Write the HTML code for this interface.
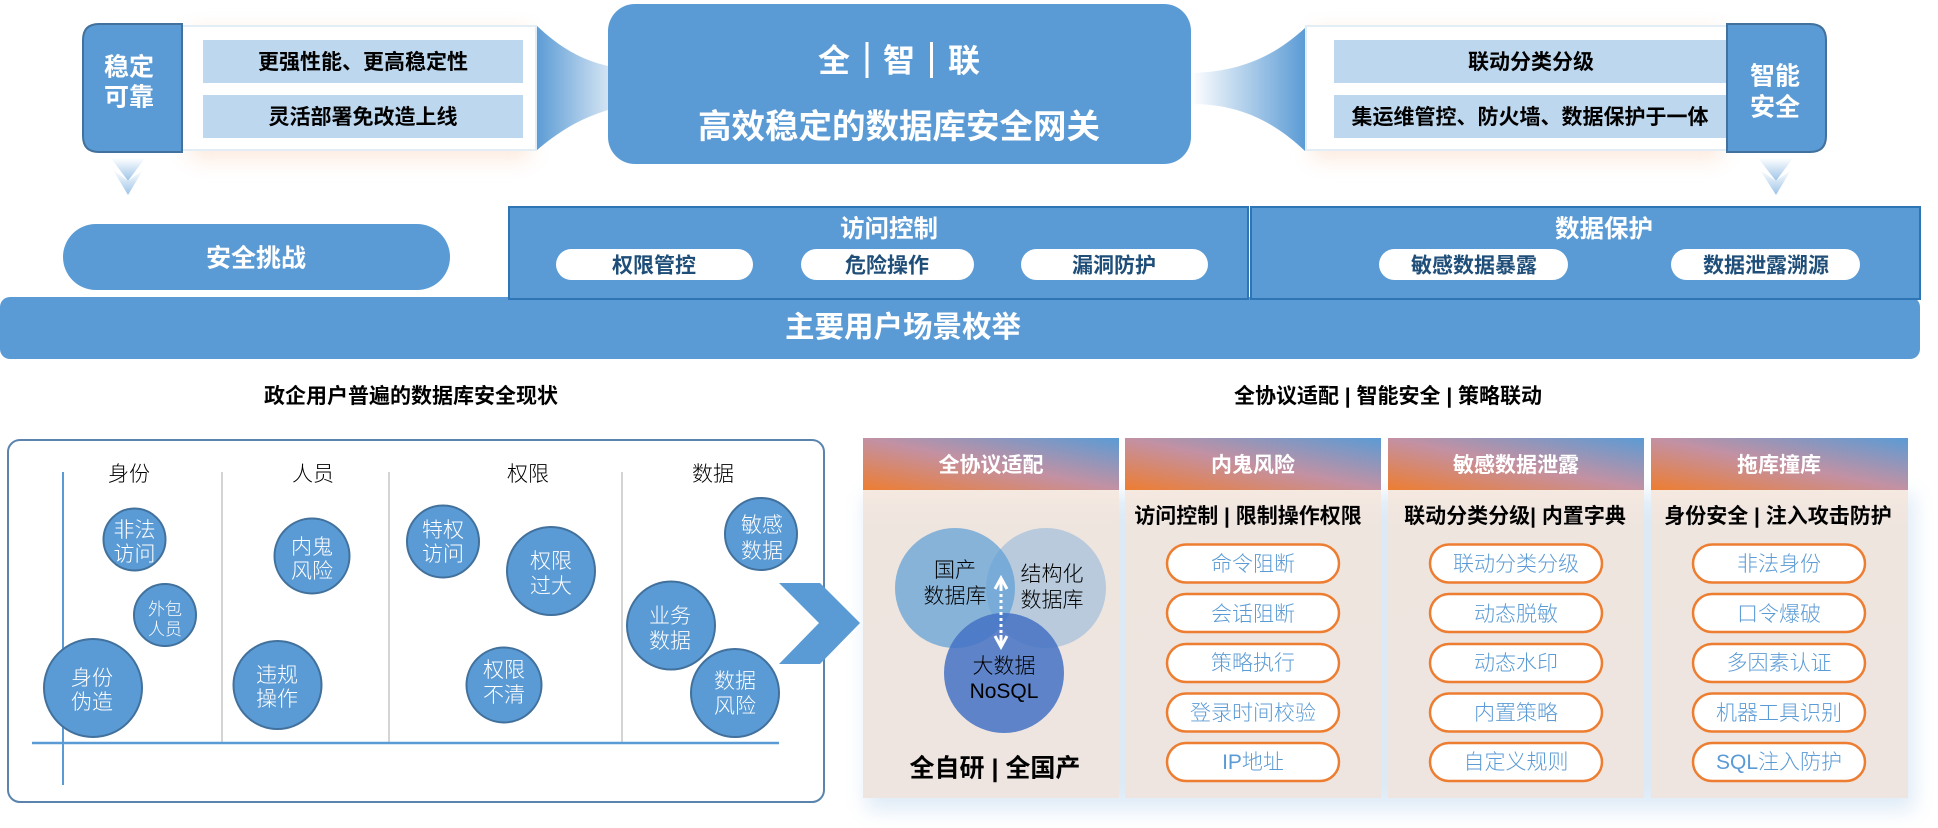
<!DOCTYPE html>
<html lang="zh">
<head>
<meta charset="utf-8">
<title>全智联</title>
<style>
html,body{margin:0;padding:0;background:#fff;width:1938px;height:828px;overflow:hidden}
svg{display:block}
text{font-family:"Liberation Sans","Noto Sans CJK SC",sans-serif;text-anchor:middle;dominant-baseline:central;transform:translateY(1.3px);font-weight:300}
.b{font-weight:700}
.w{fill:#fff}
.k{fill:#000}
.d{fill:#1f4e79;font-weight:700;font-size:21px}
.c{fill:#fff;font-size:21px}
.l{fill:#000;font-size:21px}
.t{fill:#5b9bd5;font-size:21px}
.bub{fill:#5b9bd5;stroke:#41719c;stroke-width:2}
.pill{fill:#fff}
.btn{fill:#fff;stroke:#ed7d31;stroke-width:2.500}
</style>
</head>
<body>
<svg width="1938" height="828" viewBox="0 0 1938 828" xmlns="http://www.w3.org/2000/svg">
<defs>
<filter id="blur8" x="-20%" y="-40%" width="140%" height="180%"><feGaussianBlur stdDeviation="10"/></filter>
<filter id="blur10" x="-10%" y="-20%" width="120%" height="140%"><feGaussianBlur stdDeviation="10"/></filter>
<linearGradient id="fl" x1="0" x2="1" y1="0" y2="0"><stop offset="0" stop-color="#5b9bd5"/><stop offset="1" stop-color="#d3e3f3"/></linearGradient>
<linearGradient id="fr" x1="0" x2="1" y1="0" y2="0"><stop offset="0" stop-color="#ffffff"/><stop offset="1" stop-color="#5b9bd5"/></linearGradient>
<linearGradient id="dn" x1="0" x2="0" y1="0" y2="1"><stop offset="0" stop-color="#ffffff"/><stop offset="1" stop-color="#9cc3e8"/></linearGradient>
<linearGradient id="hd" x1="0" x2="1" y1="1" y2="0"><stop offset="0" stop-color="#ed7d31"/><stop offset=".5" stop-color="#c391a3"/><stop offset="1" stop-color="#5b9bd5"/></linearGradient>
<linearGradient id="bd" x1="0" x2="0" y1="0" y2="1"><stop offset="0" stop-color="#f5e9e0"/><stop offset=".12" stop-color="#eee5df"/><stop offset="1" stop-color="#eee5e0"/></linearGradient>
</defs>

<!-- top glow -->
<rect x="190" y="30" width="340" height="130" fill="#f8c9a8" opacity=".38" filter="url(#blur8)"/>
<rect x="1312" y="30" width="410" height="130" fill="#f8c9a8" opacity=".38" filter="url(#blur8)"/>

<!-- funnels -->
<path d="M536 25 C560 48 582 60 608 66 L608 110 C582 118 560 130 536 151 Z" fill="url(#fl)"/>
<path d="M1191 73 C1235 72 1270 60 1305 28 L1305 151 C1270 118 1235 104 1191 104 Z" fill="url(#fr)"/>

<!-- left panel -->
<rect x="182" y="26" width="354" height="124" fill="#fff" stroke="#e3edf6" stroke-width="2"/>
<rect x="203" y="40" width="320" height="43" fill="#bdd7ee"/>
<rect x="203" y="95" width="320" height="43" fill="#bdd7ee"/>
<text x="363" y="61" class="b k" font-size="21">更强性能、更高稳定性</text>
<text x="363" y="116" class="b k" font-size="21">灵活部署免改造上线</text>
<path d="M182 24 H99 Q83 24 83 40 V136 Q83 152 99 152 H182 Z" fill="#5b9bd5" stroke="#41719c" stroke-width="2"/>
<text x="129" y="66" class="b w" font-size="25">稳定</text>
<text x="129" y="96" class="b w" font-size="25">可靠</text>

<!-- right panel -->
<rect x="1306" y="26" width="421" height="124" fill="#fff" stroke="#e3edf6" stroke-width="2"/>
<rect x="1334" y="40" width="393" height="43" fill="#bdd7ee"/>
<rect x="1334" y="95" width="393" height="43" fill="#bdd7ee"/>
<text x="1531" y="61" class="b k" font-size="21">联动分类分级</text>
<text x="1530" y="116" class="b k" font-size="21">集运维管控、防火墙、数据保护于一体</text>
<path d="M1727 24 H1810 Q1826 24 1826 40 V136 Q1826 152 1810 152 H1727 Z" fill="#5b9bd5" stroke="#41719c" stroke-width="2"/>
<text x="1775" y="75" class="b w" font-size="25">智能</text>
<text x="1775" y="106" class="b w" font-size="25">安全</text>

<!-- down chevrons -->
<path d="M111 158 H145 L128 181 Z" fill="url(#dn)"/>
<path d="M113 170 L128 181 L143 170 L128 195 Z" fill="url(#dn)"/>
<path d="M1758 158 H1793 L1776 181 Z" fill="url(#dn)"/>
<path d="M1760 170 L1776 181 L1791 170 L1776 195 Z" fill="url(#dn)"/>

<!-- main title box -->
<rect x="608" y="4" width="583" height="160" rx="27" fill="#5b9bd5"/>
<text x="834" y="59" class="b w" font-size="32">全</text>
<rect x="865.500" y="42" width="3" height="36" fill="#fff"/>
<text x="899" y="59" class="b w" font-size="32">智</text>
<rect x="930" y="42" width="3" height="36" fill="#fff"/>
<text x="964" y="59" class="b w" font-size="32">联</text>
<text x="899" y="126" class="b w" font-size="33.500">高效稳定的数据库安全网关</text>

<!-- band -->
<rect x="0" y="297" width="1920" height="62" rx="10" fill="#5b9bd5"/>
<text x="903" y="326" class="b w" font-size="29.500">主要用户场景枚举</text>

<!-- row 2 -->
<rect x="63" y="224" width="387" height="66" rx="33" fill="#5b9bd5"/>
<text x="256" y="257" class="b w" font-size="25">安全挑战</text>

<rect x="509" y="207" width="739" height="92" fill="#5b9bd5" stroke="#2e75b6" stroke-width="2"/>
<text x="889" y="228" class="b w" font-size="24.500">访问控制</text>
<rect x="556" y="249" width="197" height="31" rx="15.500" class="pill"/>
<text x="654" y="264.500" class="d">权限管控</text>
<rect x="801" y="249" width="173" height="31" rx="15.500" class="pill"/>
<text x="887" y="264.500" class="d">危险操作</text>
<rect x="1021" y="249" width="187" height="31" rx="15.500" class="pill"/>
<text x="1114" y="264.500" class="d">漏洞防护</text>

<rect x="1251" y="207" width="669" height="92" fill="#5b9bd5" stroke="#2e75b6" stroke-width="2"/>
<text x="1604" y="228" class="b w" font-size="24.500">数据保护</text>
<rect x="1379" y="249" width="189" height="31" rx="15.500" class="pill"/>
<text x="1474" y="264.500" class="d">敏感数据暴露</text>
<rect x="1671" y="249" width="189" height="31" rx="15.500" class="pill"/>
<text x="1766" y="264.500" class="d">数据泄露溯源</text>

<!-- section headings -->
<text x="411" y="395" class="b k" font-size="21">政企用户普遍的数据库安全现状</text>
<text x="1388" y="395" class="b k" font-size="21">全协议适配 | 智能安全 | 策略联动</text>

<!-- left container -->
<rect x="8" y="440" width="816" height="362" rx="12" fill="#fff" stroke="#5a84ad" stroke-width="2"/>
<line x1="222" y1="472" x2="222" y2="744" stroke="#d4d4d4" stroke-width="2"/>
<line x1="389" y1="472" x2="389" y2="744" stroke="#d4d4d4" stroke-width="2"/>
<line x1="622" y1="472" x2="622" y2="744" stroke="#d4d4d4" stroke-width="2"/>
<line x1="63" y1="472" x2="63" y2="785" stroke="#5b9bd5" stroke-width="2"/>
<line x1="32" y1="743" x2="779" y2="743" stroke="#5b9bd5" stroke-width="2.500"/>
<text x="129" y="473" class="l">身份</text>
<text x="313" y="473" class="l">人员</text>
<text x="528" y="473" class="l">权限</text>
<text x="713" y="473" class="l">数据</text>

<circle cx="134.500" cy="539.500" r="31" class="bub"/>
<text x="134.500" y="529" class="c">非法</text><text x="134.500" y="553" class="c">访问</text>
<circle cx="165" cy="615" r="31" class="bub"/>
<text x="165" y="608" class="c" style="font-size:17px">外包</text><text x="165" y="628" class="c" style="font-size:17px">人员</text>
<circle cx="93" cy="688" r="49" class="bub"/>
<text x="92" y="677" class="c">身份</text><text x="92" y="701" class="c">伪造</text>
<circle cx="312" cy="556" r="37.500" class="bub"/>
<text x="312" y="546" class="c">内鬼</text><text x="312" y="570" class="c">风险</text>
<circle cx="277.500" cy="685" r="44" class="bub"/>
<text x="277" y="674" class="c">违规</text><text x="277" y="698" class="c">操作</text>
<circle cx="443" cy="541.500" r="36" class="bub"/>
<text x="443" y="529" class="c">特权</text><text x="443" y="553" class="c">访问</text>
<circle cx="551" cy="571" r="44" class="bub"/>
<text x="551" y="560" class="c">权限</text><text x="551" y="585" class="c">过大</text>
<circle cx="504" cy="685" r="37.500" class="bub"/>
<text x="504" y="669" class="c">权限</text><text x="504" y="694" class="c">不清</text>
<circle cx="761" cy="534" r="36" class="bub"/>
<text x="762" y="524" class="c">敏感</text><text x="762" y="550" class="c">数据</text>
<circle cx="671" cy="625.500" r="44" class="bub"/>
<text x="670" y="615" class="c">业务</text><text x="670" y="640" class="c">数据</text>
<circle cx="735" cy="693" r="44" class="bub"/>
<text x="735" y="680" class="c">数据</text><text x="735" y="705" class="c">风险</text>

<!-- big chevron -->
<path d="M779 583 H820 L860 623 L820 664 H779 L819 623 Z" fill="#5b9bd5"/>

<!-- card shadows -->
<rect x="866" y="494" width="1048" height="316" fill="#5b9bd5" opacity=".2" filter="url(#blur10)"/>

<!-- card 1 -->
<rect x="863" y="490" width="256" height="308" fill="url(#bd)"/>
<rect x="863" y="438" width="256" height="52" fill="url(#hd)"/>
<text x="991" y="464" class="b w" font-size="21">全协议适配</text>
<circle cx="1046" cy="588" r="60" fill="#94b7da" opacity=".6"/>
<circle cx="955" cy="588" r="60" fill="#609fd6" opacity=".72"/>
<circle cx="1004" cy="673" r="60" fill="#4472c4" opacity=".85"/>
<text x="955" y="569" class="l">国产</text><text x="955" y="595" class="l">数据库</text>
<text x="1052" y="573" class="l">结构化</text><text x="1052" y="599" class="l">数据库</text>
<text x="1004" y="665" class="l">大数据</text><text x="1004" y="690" class="l">NoSQL</text>
<line x1="1001" y1="582" x2="1001" y2="642" stroke="#fff" stroke-width="3" stroke-dasharray="3 3"/>
<path d="M995 589 L1001 578 L1007 589 M1001 578 V590" fill="none" stroke="#fff" stroke-width="3"/>
<path d="M995 636 L1001 647 L1007 636 M1001 647 V635" fill="none" stroke="#fff" stroke-width="3"/>
<text x="995" y="767" class="b k" font-size="25">全自研 | 全国产</text>

<!-- card 2 -->
<rect x="1125" y="490" width="256" height="308" fill="url(#bd)"/>
<rect x="1125" y="438" width="256" height="52" fill="url(#hd)"/>
<text x="1253" y="464" class="b w" font-size="21">内鬼风险</text>
<text x="1248" y="515" class="b k" font-size="21">访问控制 | 限制操作权限</text>
<rect x="1167" y="544.500" width="172" height="38" rx="19" class="btn"/><text x="1253" y="563" class="t">命令阻断</text>
<rect x="1167" y="594" width="172" height="38" rx="19" class="btn"/><text x="1253" y="613" class="t">会话阻断</text>
<rect x="1167" y="644" width="172" height="38" rx="19" class="btn"/><text x="1253" y="662" class="t">策略执行</text>
<rect x="1167" y="693.500" width="172" height="38" rx="19" class="btn"/><text x="1253" y="712" class="t">登录时间校验</text>
<rect x="1167" y="743" width="172" height="38" rx="19" class="btn"/><text x="1253" y="761" class="t">IP地址</text>

<!-- card 3 -->
<rect x="1388" y="490" width="256" height="308" fill="url(#bd)"/>
<rect x="1388" y="438" width="256" height="52" fill="url(#hd)"/>
<text x="1516" y="464" class="b w" font-size="21">敏感数据泄露</text>
<text x="1515" y="515" class="b k" font-size="21">联动分类分级| 内置字典</text>
<rect x="1430" y="544.500" width="172" height="38" rx="19" class="btn"/><text x="1516" y="563" class="t">联动分类分级</text>
<rect x="1430" y="594" width="172" height="38" rx="19" class="btn"/><text x="1516" y="613" class="t">动态脱敏</text>
<rect x="1430" y="644" width="172" height="38" rx="19" class="btn"/><text x="1516" y="662" class="t">动态水印</text>
<rect x="1430" y="693.500" width="172" height="38" rx="19" class="btn"/><text x="1516" y="712" class="t">内置策略</text>
<rect x="1430" y="743" width="172" height="38" rx="19" class="btn"/><text x="1516" y="761" class="t">自定义规则</text>

<!-- card 4 -->
<rect x="1651" y="490" width="257" height="308" fill="url(#bd)"/>
<rect x="1651" y="438" width="257" height="52" fill="url(#hd)"/>
<text x="1779" y="464" class="b w" font-size="21">拖库撞库</text>
<text x="1778" y="515" class="b k" font-size="21">身份安全 | 注入攻击防护</text>
<rect x="1693" y="544.500" width="172" height="38" rx="19" class="btn"/><text x="1779" y="563" class="t">非法身份</text>
<rect x="1693" y="594" width="172" height="38" rx="19" class="btn"/><text x="1779" y="613" class="t">口令爆破</text>
<rect x="1693" y="644" width="172" height="38" rx="19" class="btn"/><text x="1779" y="662" class="t">多因素认证</text>
<rect x="1693" y="693.500" width="172" height="38" rx="19" class="btn"/><text x="1779" y="712" class="t">机器工具识别</text>
<rect x="1693" y="743" width="172" height="38" rx="19" class="btn"/><text x="1779" y="761" class="t">SQL注入防护</text>
</svg>
</body>
</html>
